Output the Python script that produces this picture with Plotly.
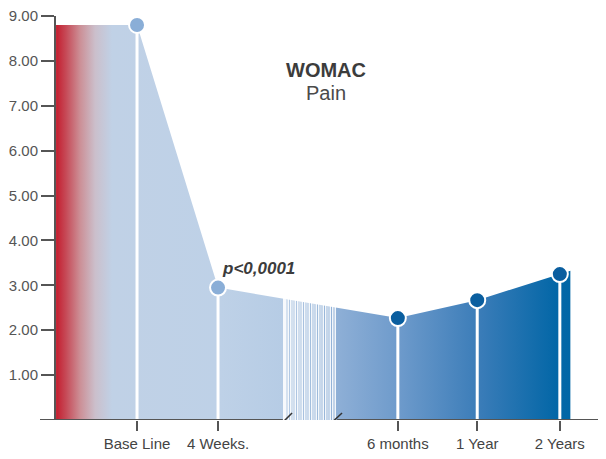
import plotly.graph_objects as go

# ---- data ----
categories = ["Base Line", "4 Weeks.", "6 months", "1 Year", "2 Years"]
womac_pain = [8.8, 2.95, 2.27, 2.67, 3.25]
y_ticks = [1, 2, 3, 4, 5, 6, 7, 8, 9]
y_tick_labels = ["1.00", "2.00", "3.00", "4.00", "5.00", "6.00", "7.00", "8.00", "9.00"]
p_label = "p<0,0001"

# ---- layout helpers (positions on a numeric axis with a break) ----
positions = [1, 2, 4.22, 5.2, 6.22]
x_min, x_max = -0.198, 6.79
fill_left, fill_right = 0.0, 6.35
break_lo, break_hi = 2.80, 3.47

FONT = "Liberation Sans, Arial, Helvetica, sans-serif"
GREY = "#555555"

# the page body adds an 8px offset; size the figure so the plot lands where the reference has it
OFF = 8
W, H = 606 - OFF, 459 - OFF
ML, MT, MB = 40 - OFF, 16 - OFF, 39

slope = (womac_pain[-1] - womac_pain[-2]) / (positions[-1] - positions[-2])
fill_x = [fill_left] + positions + [fill_right]
fill_y = [womac_pain[0]] + womac_pain + [womac_pain[-1] + slope * (fill_right - positions[-1])]


def f(px):
    return (px - 56) / 514.0


colorscale = [
    [0.0, "#c41d2e"],
    [f(66), "#c64a57"],
    [f(80), "#cc8f96"],
    [f(95), "#cbbfcb"],
    [f(112), "#c0d1e6"],
    [f(220), "#bed1e7"],
    [f(283), "#b6cce5"],
    [f(337), "#8eafd6"],
    [f(400), "#6d9acb"],
    [f(480), "#3a7cb8"],
    [f(555), "#0467a7"],
    [1.0, "#0066a6"],
]

fig = go.Figure()

# gradient area
fig.add_trace(go.Scatter(
    x=fill_x, y=fill_y, mode="lines", line=dict(width=0, color="rgba(0,0,0,0)"),
    fill="tozeroy",
    fillgradient=dict(type="horizontal", colorscale=colorscale, start=fill_left, stop=fill_right),
    hoverinfo="skip", showlegend=False,
))

# white stripes in the axis break
stripe_px = [283.5, 284.5, 285.5, 287, 288.5, 290.5, 292, 294, 295.5, 297.5, 299, 301, 302.5,
             304.5, 306, 308, 309.5, 311.5, 313, 315, 316.5, 318.5, 320, 322, 323.5, 325.5,
             327, 329, 330.5, 332.5, 334, 335.5]
sx, sy = [], []
for p in stripe_px:
    xv = 1 + (p - 137) / 81.0
    sx += [xv, xv, None]
    sy += [0, 3.3, None]
fig.add_trace(go.Scatter(x=sx, y=sy, mode="lines", line=dict(color="white", width=0.9),
                         hoverinfo="skip", showlegend=False))

# white drop lines
dx, dy = [], []
for p, v in zip(positions, womac_pain):
    dx += [p, p, None]
    dy += [0, v, None]
fig.add_trace(go.Scatter(x=dx, y=dy, mode="lines", line=dict(color="white", width=3),
                         hoverinfo="skip", showlegend=False))

# markers
marker_colors = ["#8aaed7", "#8aaed7", "#0a5e9f", "#0a5e9f", "#0a5e9f"]
fig.add_trace(go.Scatter(
    x=positions, y=womac_pain, mode="markers",
    marker=dict(size=16, color=marker_colors, line=dict(color="white", width=2)),
    cliponaxis=False, showlegend=False,
))

shapes = [
    dict(type="line", xref="x", yref="y", x0=x_min, x1=break_lo, y0=0, y1=0,
         line=dict(color=GREY, width=2), layer="above"),
    dict(type="line", xref="x", yref="y", x0=break_hi, x1=x_max, y0=0, y1=0,
         line=dict(color=GREY, width=2), layer="above"),
    dict(type="line", xref="x", yref="y", x0=2.741, x1=2.914, y0=-0.156, y1=0.156,
         line=dict(color="#333333", width=1.5), layer="above"),
    dict(type="line", xref="x", yref="y", x0=3.346, x1=3.531, y0=-0.156, y1=0.156,
         line=dict(color="#333333", width=1.5), layer="above"),
]

plot_h = H - MT - MB
plot_w = W - ML
title_x = (326 - 40) / plot_w


def py(px_ref):
    # reference pixel y -> paper y
    return (420 - px_ref) / plot_h


fig.update_layout(
    width=W, height=H,
    margin=dict(l=ML, r=0, t=MT, b=MB, autoexpand=False),
    paper_bgcolor="white", plot_bgcolor="white",
    font=dict(family=FONT, color=GREY, size=15),
    shapes=shapes,
    xaxis=dict(
        range=[x_min, x_max], domain=[0, 1], automargin=False,
        tickvals=positions, ticktext=categories, ticklabeloverflow="allow",
        showgrid=False, zeroline=False, showline=False,
        ticks="outside", ticklen=10, tickwidth=2, tickcolor=GREY,
        tickfont=dict(family=FONT, size=15, color="#444444"),
    ),
    yaxis=dict(
        range=[0, 9], anchor="free", position=15 / plot_w, automargin=False,
        tickvals=y_ticks, ticktext=y_tick_labels, ticklabeloverflow="allow",
        showgrid=False, zeroline=False, showline=True, linecolor=GREY, linewidth=2,
        ticks="outside", ticklen=13, tickwidth=2, tickcolor=GREY,
        tickfont=dict(family=FONT, size=15, color=GREY),
    ),
    annotations=[
        dict(text="<b>WOMAC</b>", x=title_x, y=py(57), xref="paper", yref="paper",
             showarrow=False, font=dict(family=FONT, size=20, color="#3c3c3c")),
        dict(text="Pain", x=title_x, y=py(80), xref="paper", yref="paper",
             showarrow=False, font=dict(family=FONT, size=20, color="#4a4a4a")),
        dict(text="<b><i>" + p_label + "</i></b>", x=positions[1], y=womac_pain[1],
             xref="x", yref="y", xanchor="left", yanchor="bottom", xshift=2, yshift=8,
             showarrow=False, font=dict(family=FONT, size=17, color="#3c3c3c")),
    ],
)

fig.write_html("out.html")
